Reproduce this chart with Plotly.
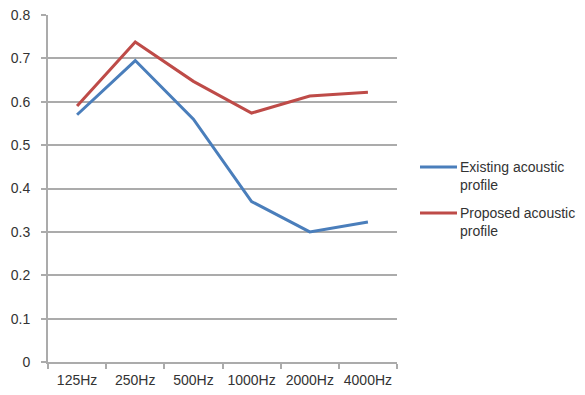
import plotly.graph_objects as go

# Octave-band centre frequencies
bands = ["125Hz", "250Hz", "500Hz", "1000Hz", "2000Hz", "4000Hz"]

# Absorption coefficients per band
existing = [0.57, 0.695, 0.56, 0.37, 0.30, 0.323]
proposed = [0.59, 0.738, 0.647, 0.574, 0.613, 0.622]

series_names = ["Existing acoustic<br>profile", "Proposed acoustic<br>profile"]
series_colors = ["#4A7EBB", "#BE4B48"]

y_ticks = [0, 0.1, 0.2, 0.3, 0.4, 0.5, 0.6, 0.7, 0.8]

W, H = 585, 395
L, R, T, B = 48, 188, 15, 33
plot_w, plot_h = W - L - R, H - T - B

fig = go.Figure()
for vals, name, col in zip([existing, proposed], series_names, series_colors):
    fig.add_trace(go.Scatter(
        x=bands, y=vals, mode="lines", name=name,
        line=dict(color=col, width=3), showlegend=False,
    ))

# Side key: a short coloured stroke followed by the two-line series label
def px_x(px):
    return (px - L) / plot_w

def px_y(py):
    return (H - B - py) / plot_h

key_rows = [167, 213]
for row, name, col in zip(key_rows, series_names, series_colors):
    fig.add_shape(
        type="line", xref="paper", yref="paper",
        x0=px_x(420), x1=px_x(457), y0=px_y(row), y1=px_y(row),
        line=dict(color=col, width=3),
    )
    fig.add_annotation(
        xref="paper", yref="paper", x=px_x(458), y=px_y(row - 10),
        xanchor="left", yanchor="top", align="left", showarrow=False,
        text=name, font=dict(size=14, color="#333333"),
    )

grid_col = "#ABABAB"
fig.update_layout(
    width=W, height=H,
    margin=dict(l=L, r=R, t=T, b=B),
    paper_bgcolor="white", plot_bgcolor="white",
    font=dict(family="Liberation Sans, Arial, sans-serif", size=14, color="#333333"),
    showlegend=False,
    xaxis=dict(
        type="category", showgrid=False, showline=True,
        linecolor=grid_col, linewidth=2,
        ticks="outside", tickson="boundaries", ticklen=5,
        tickcolor=grid_col, tickwidth=1.5, tickangle=0,
        ticklabelstandoff=4, automargin=False,
        range=[-0.5, 5.5], fixedrange=True,
    ),
    yaxis=dict(
        range=[0, 0.8], tickvals=y_ticks,
        ticktext=["0" if v == 0 else f"{v:.1f}" for v in y_ticks],
        showgrid=True, gridcolor=grid_col, gridwidth=2,
        showline=True, linecolor=grid_col, linewidth=2,
        ticks="outside", ticklen=5, tickcolor=grid_col, tickwidth=1.5,
        ticklabelstandoff=8, automargin=False,
        zeroline=False, fixedrange=True,
    ),
)

fig.write_html("out.html")
